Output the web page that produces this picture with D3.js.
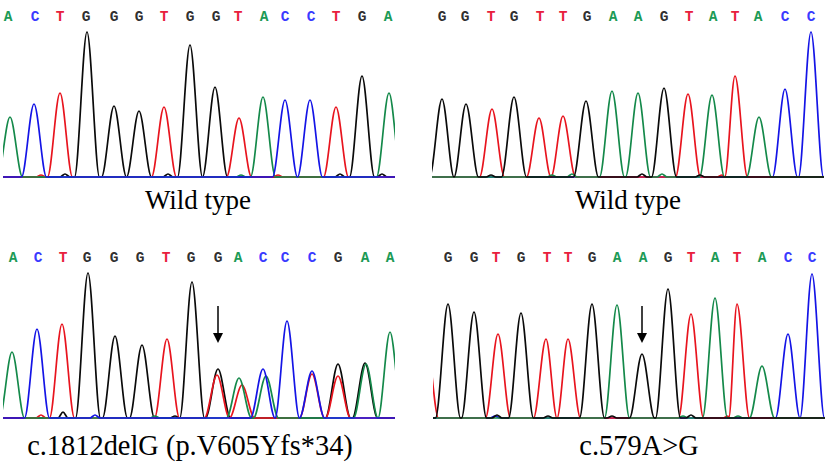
<!DOCTYPE html>
<html><head><meta charset="utf-8">
<script src="https://cdn.jsdelivr.net/npm/d3@7"></script>
<style>body{margin:0;background:#fff}svg{display:block}</style>
</head><body>
<svg id="c" width="829" height="472"></svg>
<script>
// ---------- DATA (positions in scan units, heights in signal units) ----------
const p1Seq = "ACTGGGTGGTACCTGA".split("");
const p1SeqPos = [5,32,57,83,111,136,161,187,213,235,261,282,308,333,359,385];
const p1Peaks = [["A",7,60],["C",31,73],["T",57,84],["G",84,145],["G",111,71],["G",136,66],
  ["T",161,70],["G",187,132],["G",212,90],["T",236,59],["A",260,80],["C",282,77],["C",307,77],
  ["T",333,70],["G",359,101],["A",386,84]];
const p1Noise = [["G",62,3],["T",38,2],["G",165,3],["A",238,2],["G",337,3],["G",379,3],["T",275,2]];
const p1Label = "Wild type";

const p2Seq = "GGTGTTGAAGTATACC".split("");
const p2SeqPos = [10,33,59,82,108,131,155,181,206,232,257,281,303,326,353,379];
const p2Peaks = [["G",10,78],["G",34,73],["T",60,68],["G",82,80],["T",107,59],["T",131,61],
  ["G",154,76],["A",180,86],["A",206,84],["G",232,89],["T",256,83],["A",280,82],["T",303,101],
  ["A",327,60],["C",353,88],["C",379,145]];
const p2Noise = [["G",59,2],["A",140,3],["G",210,3],["A",230,3],["G",268,2],["T",290,2],["A",120,2]];
const p2Label = "Wild type";

const p3Seq = "ACTGGGTGGACCCGAA".split("");
const p3SeqPos = [10,35,60,84,111,137,163,188,215,235,260,282,309,335,362,387];
const p3Peaks = [["A",9,66],["C",34,89],["T",59,94],["G",85,145],["G",112,82],["G",139,73],
  ["T",164,79],["G",189,136],["G",215,49],["T",214,43],["A",236,40],["T",239,33],["C",260,49],
  ["A",263,42],["C",284,97],["C",309,47],["T",309,44],["G",335,54],["T",335,42],["G",362,55],
  ["A",363,54],["A",387,86]];
const p3Noise = [["G",60,6],["T",38,3],["C",92,3],["A",152,2],["G",172,2]];
const p3Label = "c.1812delG (p.V605Yfs*34)";
const p3Arrow = [215, 112, 75];

const p4Seq = "GGTGTTGAAGTATACC".split("");
const p4SeqPos = [15,41,63,88,114,135,159,184,210,235,258,282,304,329,355,379];
const p4Peaks = [["T",-7,80],["G",15,114],["G",41,106],["T",65,84],["G",88,105],["T",113,79],
  ["T",135,79],["G",159,114],["A",184,113],["G",209,64],["G",235,129],["T",258,104],["A",282,120],
  ["T",304,114],["A",329,52],["C",355,84],["C",379,144]];
const p4Noise = [["G",64,3],["C",62,2],["G",115,2],["G",179,2],["G",258,3],["A",250,2],["T",295,2],["A",305,2]];
const p4Label = "c.579A>G";
const p4Arrow = [209, 112, 75];

// ---------- STYLE / LAYOUT ----------
const traceColor = {A:"#14894a", C:"#1414e6", G:"#0a0a0a", T:"#e8141e"};
const letterColor = {A:"#1c9a56", C:"#3a3aff", G:"#303030", T:"#e8203c"};
const panels = [
  {seq:p1Seq, seqPos:p1SeqPos, peaks:p1Peaks, noise:p1Noise, label:p1Label, x0:3, base:177, letterY:21, labelX:198, labelY:209, fs:27, order:["G","T","A","C"]},
  {seq:p2Seq, seqPos:p2SeqPos, peaks:p2Peaks, noise:p2Noise, label:p2Label, x0:432, base:177, letterY:21, labelX:628, labelY:209, fs:27, order:["C","T","A","G"]},
  {seq:p3Seq, seqPos:p3SeqPos, peaks:p3Peaks, noise:p3Noise, label:p3Label, x0:3, base:418, letterY:262, labelX:190, labelY:455, fs:28.4, order:["G","T","A","C"], arrow:p3Arrow},
  {seq:p4Seq, seqPos:p4SeqPos, peaks:p4Peaks, noise:p4Noise, label:p4Label, x0:433, base:418, letterY:262, labelX:639, labelY:455, fs:28.4, order:["C","T","A","G"], arrow:p4Arrow}
];
const PW = 392, PEAKW = 12.5, NOISEW = 5;

const svg = d3.select("#c");
svg.append("rect").attr("width",829).attr("height",472).attr("fill","#fff");

function channelPoints(list, lo, hi) {
  const s = list.slice().sort((a,b)=>a.pos-b.pos);
  const pts = [[lo,0]];
  s.forEach((pk,i) => {
    const left = pk.pos - pk.w;
    const prev = s[i-1];
    if (prev && left <= prev.pos + prev.w) {
      let m = (prev.pos + prev.w + left)/2;
      m = Math.min(Math.max(m, prev.pos + 0.5), pk.pos - 0.5);
      pts.pop();
      pts.push([m,0]);
    } else pts.push([left,0]);
    pts.push([pk.pos, pk.h]);
    pts.push([pk.pos + pk.w, 0]);
  });
  pts.push([hi,0]);
  return pts;
}

panels.forEach((p,pi) => {
  const x = d3.scaleLinear().domain([0,PW]).range([p.x0, p.x0+PW]);
  const y = d3.scaleLinear().domain([0,150]).range([p.base, p.base-150]);
  const g = svg.append("g");
  const cid = "clip"+pi;
  g.append("clipPath").attr("id",cid).append("rect")
    .attr("x",x(0)).attr("y",y(160)).attr("width",x(PW)-x(0)).attr("height",y(-2)-y(160));
  const line = d3.line().x(d=>x(d[0])).y(d=>y(d[1])).curve(d3.curveMonotoneX);
  const tg = g.append("g").attr("clip-path",`url(#${cid})`);
  p.order.forEach(ch => {
    const list = p.peaks.filter(d=>d[0]===ch).map(d=>({pos:d[1],h:d[2],w:PEAKW}))
      .concat(p.noise.filter(d=>d[0]===ch).map(d=>({pos:d[1],h:d[2],w:NOISEW})));
    tg.append("path").attr("d", line(channelPoints(list,-30,PW+30)))
      .attr("fill","none").attr("stroke",traceColor[ch]).attr("stroke-width",1.7)
      .attr("stroke-linejoin","round");
  });
  // base letters
  g.selectAll("text.b").data(p.seq).join("text").attr("class","b")
    .attr("x",(d,i)=>x(p.seqPos[i])).attr("y",p.letterY)
    .attr("text-anchor","middle").attr("font-family","'Liberation Mono', monospace")
    .attr("font-weight","bold").attr("font-size",14.5).attr("fill",d=>letterColor[d]).text(d=>d);
  // label
  g.append("text").attr("x",p.labelX).attr("y",p.labelY).attr("text-anchor","middle")
    .attr("font-family","'Liberation Serif', 'Times New Roman', serif").attr("font-size",p.fs)
    .attr("fill","#000").text(p.label);
  // arrow
  if (p.arrow) {
    const ax = x(p.arrow[0]), top = y(p.arrow[1]), tip = y(p.arrow[2]);
    g.append("line").attr("x1",ax).attr("x2",ax).attr("y1",top).attr("y2",tip-8)
      .attr("stroke","#000").attr("stroke-width",1.5);
    g.append("path").attr("d",`M${ax-5},${tip-10}L${ax+5},${tip-10}L${ax},${tip}Z`).attr("fill","#000");
  }
});
</script>
</body></html>
